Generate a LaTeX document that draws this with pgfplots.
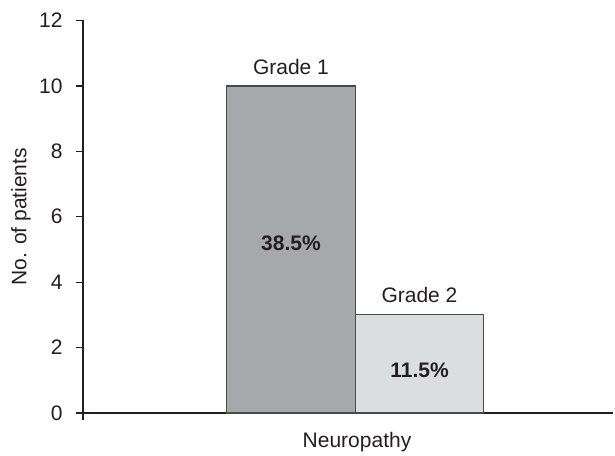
\documentclass[border=0pt]{standalone}
\usepackage{pgfplots}
\pgfplotsset{compat=1.18}
\usepackage{fontspec}
\setmainfont{Liberation Sans}
\definecolor{txt}{HTML}{231F20}
\definecolor{barA}{HTML}{A7A8AC}
\definecolor{barB}{HTML}{DCDDDF}
\definecolor{edge}{HTML}{4A4A4A}
\begin{document}
\fontsize{10.5}{12.5}\selectfont
\begin{tikzpicture}
\begin{axis}[
  at={(41.5pt,21pt)}, anchor=south west,
  scale only axis,
  width=265pt, height=196.25pt,
  xmin=0, xmax=530, ymin=0, ymax=12,
  axis lines*=left,
  axis line style={txt, line width=0.6pt},
  ytick={0,2,...,12},
  xtick={0}, xticklabels={},
  tick align=outside,
  major tick length=3.5pt,
  tick style={txt, line width=0.6pt},
  yticklabel style={txt, xshift=-3pt},
  /pgf/number format/assume math mode=true,
  every axis y label/.style={at={(axis description cs:0,0.5)}, xshift=-31pt, anchor=center, rotate=90},
  ylabel={No. of patients},
  ylabel style={txt},
  clip=false,
  ybar, bar width=128.5, bar shift=0pt,
]
\addplot[fill=barA, draw=edge, line width=0.6pt] coordinates {(208,10)};
\addplot[fill=barB, draw=edge, line width=0.6pt] coordinates {(336.5,3)};
\node[txt] at (axis cs:208,10.58) {Grade 1};
\node[txt] at (axis cs:336.5,3.62) {Grade 2};
\node[txt, font=\bfseries] at (axis cs:208,5.2) {38.5\%};
\node[txt, font=\bfseries] at (axis cs:336.5,1.31) {11.5\%};
\node[txt] at (axis cs:274,-0.88) {Neuropathy};
\end{axis}
\pgfresetboundingbox
\path[use as bounding box] (0,0) rectangle (307.5pt,227.5pt);
\end{tikzpicture}
\end{document}
